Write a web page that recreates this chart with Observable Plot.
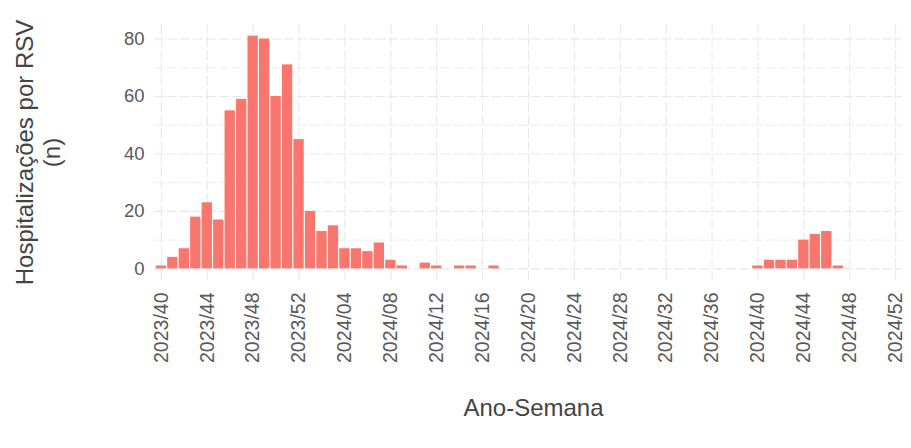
<!DOCTYPE html>
<html>
<head>
<meta charset="utf-8">
<script src="https://cdn.jsdelivr.net/npm/d3@7"></script>
<script src="https://cdn.jsdelivr.net/npm/@observablehq/plot@0.6"></script>
<style>
  html, body { margin: 0; padding: 0; background: #fff; }
</style>
</head>
<body>
<div id="chart"></div>
<script>
const weeks2023 = ["2023/40","2023/41","2023/42","2023/43","2023/44","2023/45","2023/46","2023/47","2023/48","2023/49","2023/50","2023/51","2023/52"];
const weeks2024 = ["2024/01","2024/02","2024/03","2024/04","2024/05","2024/06","2024/07","2024/08","2024/09","2024/10",
  "2024/11","2024/12","2024/13","2024/14","2024/15","2024/16","2024/17","2024/18","2024/19","2024/20",
  "2024/21","2024/22","2024/23","2024/24","2024/25","2024/26","2024/27","2024/28","2024/29","2024/30",
  "2024/31","2024/32","2024/33","2024/34","2024/35","2024/36","2024/37","2024/38","2024/39","2024/40",
  "2024/41","2024/42","2024/43","2024/44","2024/45","2024/46","2024/47","2024/48","2024/49","2024/50",
  "2024/51","2024/52"];
const weeks = weeks2023.concat(weeks2024);

const counts2023 = [1, 4, 7, 18, 23, 17, 55, 59, 81, 80, 60, 71, 45];
const counts2024 = [20, 13, 15, 7, 7, 6, 9, 3, 1, 0,
  2, 1, 0, 1, 1, 0, 1, 0, 0, 0,
  0, 0, 0, 0, 0, 0, 0, 0, 0, 0,
  0, 0, 0, 0, 0, 0, 0, 0, 0, 1,
  3, 3, 3, 10, 12, 13, 1, 0, 0, 0,
  0, 0];
const counts = counts2023.concat(counts2024);

const xTickLabels = ["2023/40","2023/44","2023/48","2023/52","2024/04","2024/08","2024/12","2024/16","2024/20","2024/24","2024/28","2024/32","2024/36","2024/40","2024/44","2024/48","2024/52"];
const yMajor = [0, 20, 40, 60, 80];
const yMinor = [10, 30, 50, 70];

const data = weeks.map((w, i) => ({week: w, n: counts[i]}));

const gridStyle = {stroke: "#e8e8e8", strokeOpacity: 1, strokeDasharray: "10,3"};

const chart = Plot.plot({
  width: 911,
  height: 448,
  marginLeft: 154,
  marginRight: 9,
  marginTop: 24,
  marginBottom: 168,
  style: {fontFamily: "'Liberation Sans', Arial, sans-serif", background: "#fff"},
  x: {domain: weeks, paddingInner: 0.1, paddingOuter: 0.15, align: 0.5},
  y: {domain: [-4.05, 85.05]},
  marks: [
    Plot.gridY({ticks: yMinor, ...gridStyle, strokeWidth: 0.8}),
    Plot.gridY({ticks: yMajor, ...gridStyle, strokeWidth: 1.1}),
    Plot.gridX({ticks: xTickLabels, ...gridStyle, strokeWidth: 1.1}),
    Plot.barY(data, {x: "week", y: "n", fill: "#F8766D"}),
    Plot.axisY({ticks: yMajor, tickSize: 0, tickPadding: 10, fontSize: 18.5, fill: "#595959", label: null}),
    Plot.axisX({ticks: xTickLabels, tickSize: 0, tickRotate: -90, tickPadding: 12, fontSize: 19.5, fill: "#595959", label: null}),
    Plot.text(["Ano-Semana"], {text: d => d, frameAnchor: "bottom", lineAnchor: "bottom", dx: 5, dy: 135, fontSize: 24, fill: "#444"}),
    Plot.text(["Hospitalizações por RSV\n(n)"], {text: d => d, frameAnchor: "left", textAnchor: "middle", lineAnchor: "middle", rotate: -90, dx: -117, lineHeight: 1.15, fontSize: 24, fill: "#444"})
  ]
});
document.getElementById("chart").appendChild(chart);
</script>
</body>
</html>
